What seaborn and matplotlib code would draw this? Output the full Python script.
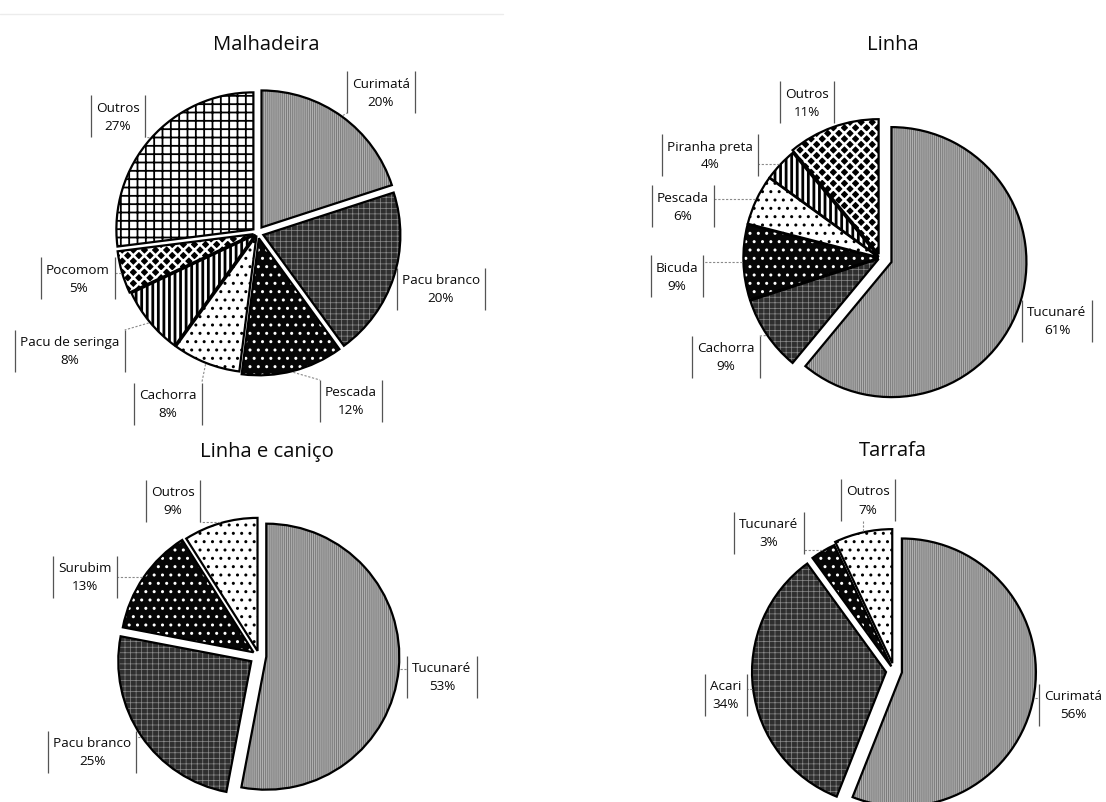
import matplotlib
matplotlib.use("Agg")
import matplotlib.pyplot as plt
from matplotlib.patches import Wedge
from matplotlib.lines import Line2D
import numpy as np
import seaborn as sns

# ---------------------------------------------------------------- data
malhadeira_species = ["Curimatá", "Pacu branco", "Pescada", "Cachorra",
                      "Pacu de seringa", "Pocomom", "Outros"]
malhadeira_pct = [20, 20, 12, 8, 8, 5, 27]

linha_species = ["Tucunaré", "Cachorra", "Bicuda", "Pescada",
                 "Piranha preta", "Outros"]
linha_pct = [61, 9, 9, 6, 4, 11]

canico_species = ["Tucunaré", "Pacu branco", "Surubim", "Outros"]
canico_pct = [53, 25, 13, 9]

tarrafa_species = ["Curimatá", "Acari", "Tucunaré", "Outros"]
tarrafa_pct = [56, 34, 3, 7]

titles = ["Malhadeira", "Linha", "Linha e caniço", "Tarrafa"]

# ---------------------------------------------------------------- style
sns.set_theme(style="white")
plt.rcParams["font.family"] = ["Open Sans", "DejaVu Sans"]

W, H = 1106, 803
TITLE_FS = 14.6
LABEL_FS = 9.7

# fill patterns used slice by slice (face, hatch, hatch colour, hatch width)
FILLS = [
    ("#b0b0b0", "||||||||", "#7a7a7a", 0.7),  # fine grey texture
    ("#2f2f2f", "+++", "#8c8c8c", 0.5),       # dark, light grid
    ("#060606", "..", "#ffffff", 1.0),        # black, white dots
    ("#ffffff", "..", "#000000", 1.0),        # white, black dots
    ("#ffffff", "|||", "#000000", 2.0),       # vertical stripes
    ("#000000", "xxx", "#ffffff", 1.8),       # diamonds
    ("#ffffff", "++", "#000000", 1.3),        # open grid
]

# panel geometry in pixels (y measured from the top); explode as a
# fraction of the radius
panels = [
    dict(names=malhadeira_species, vals=malhadeira_pct, title=titles[0],
         center=(257.5, 234), radius=137, title_xy=(266, 45),
         explode=[0.05, 0.045, 0.04, 0.02, 0.02, 0.03, 0.04],
         labels=[(381, 93), (441, 290), (351, 402), (168, 405),
                 (70, 352), (78, 279), (118, 117)]),
    dict(names=linha_species, vals=linha_pct, title=titles[1],
         center=(880, 259), radius=135, title_xy=(893, 45),
         explode=[0.09, 0.012, 0.012, 0.012, 0.012, 0.03],
         labels=[(1057, 322), (726, 358), (677, 277), (683, 207),
                 (710, 156), (807, 103)]),
    dict(names=canico_species, vals=canico_pct, title=titles[2],
         center=(259, 657), radius=133, title_xy=(267, 452),
         explode=[0.055, 0.07, 0.05, 0.04],
         labels=[(442, 678), (92, 753), (85, 578), (173, 502)]),
    dict(names=tarrafa_species, vals=tarrafa_pct, title=titles[3],
         center=(894, 672), radius=134, title_xy=(893, 451),
         explode=[0.06, 0.06, 0.04, 0.06],
         labels=[(1073, 706), (726, 696), (769, 534), (868, 501)]),
]

fig = plt.figure(figsize=(W / 100, H / 100), dpi=100)
fig.patch.set_facecolor("white")
ax = fig.add_axes([0, 0, 1, 1])

all_wedges = []
for p in panels:
    cx, cy = p["center"]
    r = p["radius"]
    wedges, _ = ax.pie(
        p["vals"], explode=[e * r for e in p["explode"]],
        center=(cx, H - cy), radius=r, startangle=90, counterclock=False,
        wedgeprops=dict(fill=False, edgecolor="black", linewidth=1.6),
        normalize=True,
    )
    for i, w in enumerate(wedges):
        w.set_zorder(3)
        face, hatch, hcol, hlw = FILLS[i]
        with plt.rc_context({"hatch.linewidth": hlw, "hatch.color": hcol}):
            hw = Wedge(w.center, w.r, w.theta1, w.theta2, facecolor=face,
                       edgecolor=hcol, linewidth=0, hatch=hatch, zorder=2)
        if hasattr(hw, "set_hatch_linewidth"):
            hw.set_hatch_linewidth(hlw)
        ax.add_patch(hw)
    all_wedges.append(wedges)

ax.set_xlim(0, W)
ax.set_ylim(0, H)
ax.set_aspect("auto")
ax.axis("off")

renderer = fig.canvas.get_renderer()

for p, wedges in zip(panels, all_wedges):
    tx, ty = p["title_xy"]
    ax.text(tx, H - ty, p["title"], ha="center", va="center",
            fontsize=TITLE_FS, color="#0a0a0a")
    for w, (lx, ly), name, v in zip(wedges, p["labels"], p["names"], p["vals"]):
        yc = H - ly
        t = ax.text(lx, yc, f"{name}\n{v}%", ha="center", va="center",
                    fontsize=LABEL_FS, linespacing=1.5, color="#0a0a0a",
                    zorder=6)
        bb = t.get_window_extent(renderer)
        x0, x1 = bb.x0 - 5, bb.x1 + 5
        top, bot = yc + 21, yc - 21
        for xb in (x0, x1):
            ax.plot([xb, xb], [bot, top], color="#555555", lw=0.9, zorder=6,
                    solid_capstyle="butt")
        # leader from the slice's outer arc to the label box
        mid = np.deg2rad((w.theta1 + w.theta2) / 2)
        px = w.center[0] + w.r * 1.01 * np.cos(mid)
        py = w.center[1] + w.r * 1.01 * np.sin(mid)
        qx = min(max(px, x0), x1)
        qy = min(max(py, bot), top)
        if np.hypot(qx - px, qy - py) > 3:
            ax.plot([px, qx], [py, qy], color="#8a8a8a", lw=0.8,
                    linestyle=(0, (2, 1.5)), zorder=4)

# faint rule along the top edge
fig.add_artist(Line2D([0, 503 / W], [1 - 15 / H, 1 - 15 / H],
                      transform=fig.transFigure, color="#ececec", lw=1))

fig.savefig("out.png", dpi=100, facecolor="white")
